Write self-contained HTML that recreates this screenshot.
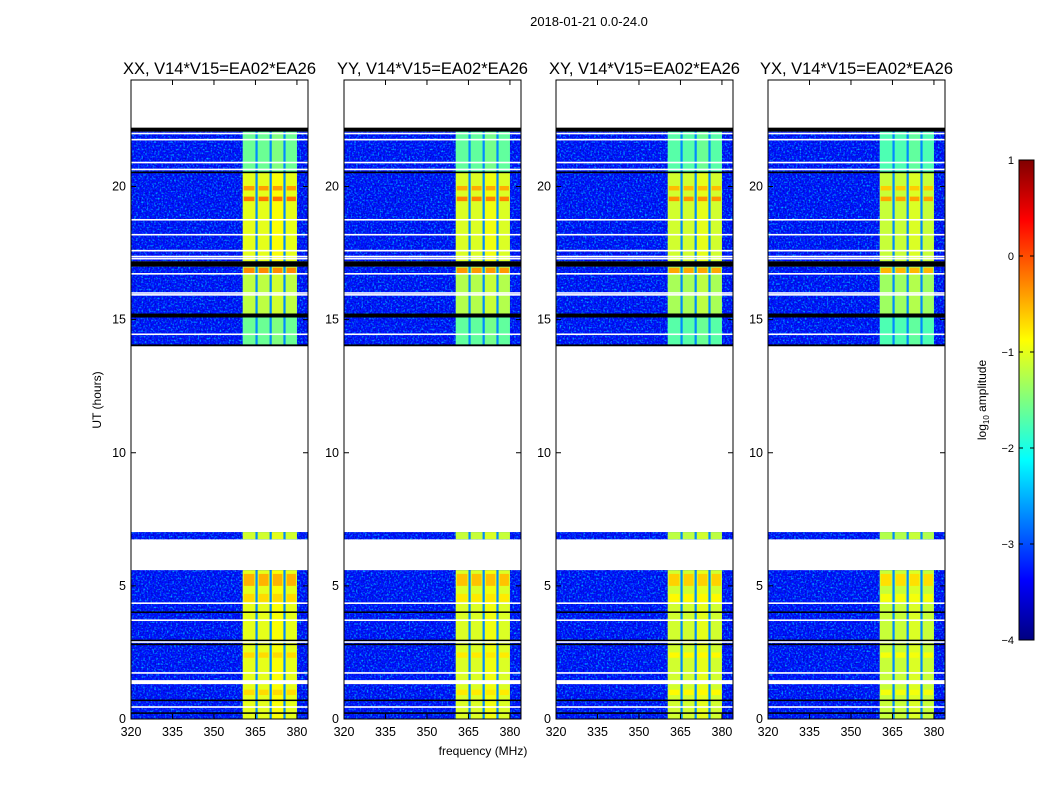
<!DOCTYPE html>
<html><head><meta charset="utf-8"><style>
body{margin:0;background:#fff;}
svg text{font-family:"Liberation Sans",sans-serif;}
</style></head><body>
<svg id="fig" width="1050" height="800" xmlns="http://www.w3.org/2000/svg">
<defs>
<filter id="nzA" x="0" y="0" width="100%" height="100%"><feTurbulence type="fractalNoise" baseFrequency="0.55" numOctaves="1" seed="3"/><feColorMatrix type="matrix" values="0 0 0 0 0  0 0 0 0 0.65  0 0 0 0 1  2.6 0 0 0 -1.25"/></filter>
<filter id="nzB" x="0" y="0" width="100%" height="100%"><feTurbulence type="fractalNoise" baseFrequency="0.6" numOctaves="1" seed="9"/><feColorMatrix type="matrix" values="0 0 0 0 0  0 0 0 0 0  0 0 0 0 0.45  2.6 0 0 0 -1.2"/></filter>
<linearGradient id="jet" x1="0" y1="1" x2="0" y2="0">
<stop offset="0" stop-color="#000080"/><stop offset="0.125" stop-color="#0000ff"/><stop offset="0.375" stop-color="#00ffff"/><stop offset="0.625" stop-color="#ffff00"/><stop offset="0.875" stop-color="#ff0000"/><stop offset="1" stop-color="#800000"/>
</linearGradient>
</defs>
<text x="589" y="26" font-size="13" text-anchor="middle">2018-01-21 0.0-24.0</text>
<g id="panels"></g>
<g id="cbar"></g>
<text x="483" y="755" font-size="12" text-anchor="middle">frequency (MHz)</text>
<text transform="translate(101,400) rotate(-90)" font-size="12" text-anchor="middle">UT (hours)</text>
<text transform="translate(986,400) rotate(-90)" font-size="12" text-anchor="middle">log<tspan font-size="8" dy="3">10</tspan><tspan dy="-3"> amplitude</tspan></text>
</svg>
<script>
const titles=["XX, V14*V15=EA02*EA26","YY, V14*V15=EA02*EA26","XY, V14*V15=EA02*EA26","YX, V14*V15=EA02*EA26"];
const panelLefts=[131,344,556,768];
const xTicks=[320,335,350,365,380];
const yTicks=[0,5,10,15,20];
const cbTicks=[-4,-3,-2,-1,0,1];
const segStart=[0,6.75,14.05,15.23,17.19,20.53];
const segEnd=[5.59,7.02,15.08,16.99,20.53,22.06];
const segBand=[-1.0,-1.1,-1.6,-1.2,-1.0,-1.6];
const bgLevel=-3.3;
const subLo=[360.4,365.8,370.9,375.9];
const subHi=[365.0,370.1,375.1,380.0];
const gapLevel=-2.7;
const hotStart=[19.45,19.85,16.75,5.0,4.4,2.3,0.9];
const hotEnd=[19.62,20.02,16.95,5.45,4.7,2.5,1.1];
const hotLevel=[-0.2,-0.4,-0.3,-0.5,-0.7,-0.7,-0.7];
const blackStart=[22.06,16.99,15.08,14.0,20.5,4.0,2.95,2.8,0.7,0.22];
const blackEnd=[22.21,17.19,15.23,14.07,20.56,4.04,2.98,2.83,0.73,0.25];
const whiteLines=[21.99,21.76,20.9,20.64,18.75,18.19,17.59,17.37,17.29,16.72,16.0,15.93,14.45,4.35,3.71,2.89,1.73,0.45];
const whiteGapStart=[1.31];
const whiteGapEnd=[1.46];
const panelOffset=[0,-0.05,-0.1,-0.15];

const W=177,plotTop=80,plotBot=719,fMin=320,fMax=384,tMax=24;
const yS=t=>plotBot-(t/tMax)*(plotBot-plotTop);
function jet(v){let x=(v+4)/5;x=Math.max(0,Math.min(1,x));
 const st=[[0,0,0,.5],[.125,0,0,1],[.375,0,1,1],[.625,1,1,0],[.875,1,0,0],[1,.5,0,0]];
 for(let i=1;i<st.length;i++)if(x<=st[i][0]){const a=st[i-1],b=st[i],f=(x-a[0])/(b[0]-a[0]);
  return`rgb(${[1,2,3].map(k=>Math.round(255*(a[k]+f*(b[k]-a[k])))).join(',')})`;}
 return'#800000';}
const NS="http://www.w3.org/2000/svg";
function el(p,tag,at){const e=document.createElementNS(NS,tag);for(const k in at)e.setAttribute(k,at[k]);p.appendChild(e);return e;}
const root=document.getElementById('panels');
panelLefts.forEach((L,pi)=>{
 const xS=f=>L+(f-fMin)/(fMax-fMin)*W;
 const g=el(root,'g',{});
 
 
 segStart.forEach((s,i)=>{
  const y0=yS(segEnd[i]),h=yS(s)-y0;
  const r=el(g,'rect',{x:L,y:y0,width:W,height:h,fill:jet(bgLevel)});
  
  
  el(g,'rect',{x:L,y:y0,width:W,height:h,filter:'url(#nzA)'});
  el(g,'rect',{x:L,y:y0,width:W,height:h,filter:'url(#nzB)'});
  el(g,'rect',{x:xS(subLo[0]),y:y0,width:xS(subHi[3])-xS(subLo[0]),height:h,fill:jet(gapLevel)});
  subLo.forEach((f,j)=>{
   const b=el(g,'rect',{x:xS(f),y:y0,width:xS(subHi[j])-xS(f),height:h,fill:jet(segBand[i]+panelOffset[pi]+(j==2?0.1:0))});
   
   
  });
 });
 hotStart.forEach((s,i)=>{
  subLo.forEach((f,j)=>{
   el(g,'rect',{x:xS(f)+1,y:yS(hotEnd[i]),width:xS(subHi[j])-xS(f)-2,height:yS(s)-yS(hotEnd[i]),fill:jet(hotLevel[i]+panelOffset[pi]*1.5)});
  });
 });
 blackStart.forEach((s,i)=>{el(g,'rect',{x:L,y:yS(blackEnd[i]),width:W,height:Math.max(1.5,yS(s)-yS(blackEnd[i])),fill:'#000'});});
 whiteLines.forEach(t=>{el(g,'rect',{x:L,y:yS(t)-0.8,width:W,height:1.6,fill:'#fff'});});
 whiteGapStart.forEach((s,i)=>{el(g,'rect',{x:L,y:yS(whiteGapEnd[i]),width:W,height:yS(s)-yS(whiteGapEnd[i]),fill:'#fff'});});
 el(g,'rect',{x:L,y:plotTop,width:W,height:plotBot-plotTop,fill:'none',stroke:'#000','stroke-width':1});
 xTicks.forEach(v=>{const x=xS(v);
  el(g,'line',{x1:x,y1:plotBot,x2:x,y2:plotBot-5,stroke:'#000'});
  el(g,'line',{x1:x,y1:plotTop,x2:x,y2:plotTop+5,stroke:'#000'});
  const t=el(g,'text',{x:x,y:plotBot+17,'font-size':12.5,'text-anchor':'middle'});t.textContent=v;
  
  
 });
 yTicks.forEach(v=>{const y=yS(v);
  el(g,'line',{x1:L,y1:y,x2:L+5,y2:y,stroke:'#000'});
  el(g,'line',{x1:L+W,y1:y,x2:L+W-5,y2:y,stroke:'#000'});
  const t=el(g,'text',{x:L-5,y:y+4,'font-size':12.5,'text-anchor':'end'});t.textContent=v;
  
  
 });
 const tt=el(g,'text',{x:L+W/2,y:74,'font-size':16.5,'text-anchor':'middle'});tt.textContent=titles[pi];
 
 
});
const cb=document.getElementById('cbar');
const cbX=1019,cbW=15,cbTop=160,cbBot=640;
el(cb,'rect',{x:cbX,y:cbTop,width:cbW,height:cbBot-cbTop,fill:'url(#jet)',stroke:'#000'});
cbTicks.forEach(v=>{const y=cbBot-(v+4)/5*(cbBot-cbTop);
 el(cb,'line',{x1:cbX,y1:y,x2:cbX+4,y2:y,stroke:'#000'});
 el(cb,'line',{x1:cbX+cbW,y1:y,x2:cbX+cbW-4,y2:y,stroke:'#000'});
 const t=el(cb,'text',{x:cbX-5,y:y+4,'font-size':11,'text-anchor':'end'});t.textContent=v<0?'\u2212'+(-v):v;
 
 
});
</script>
</body></html>
